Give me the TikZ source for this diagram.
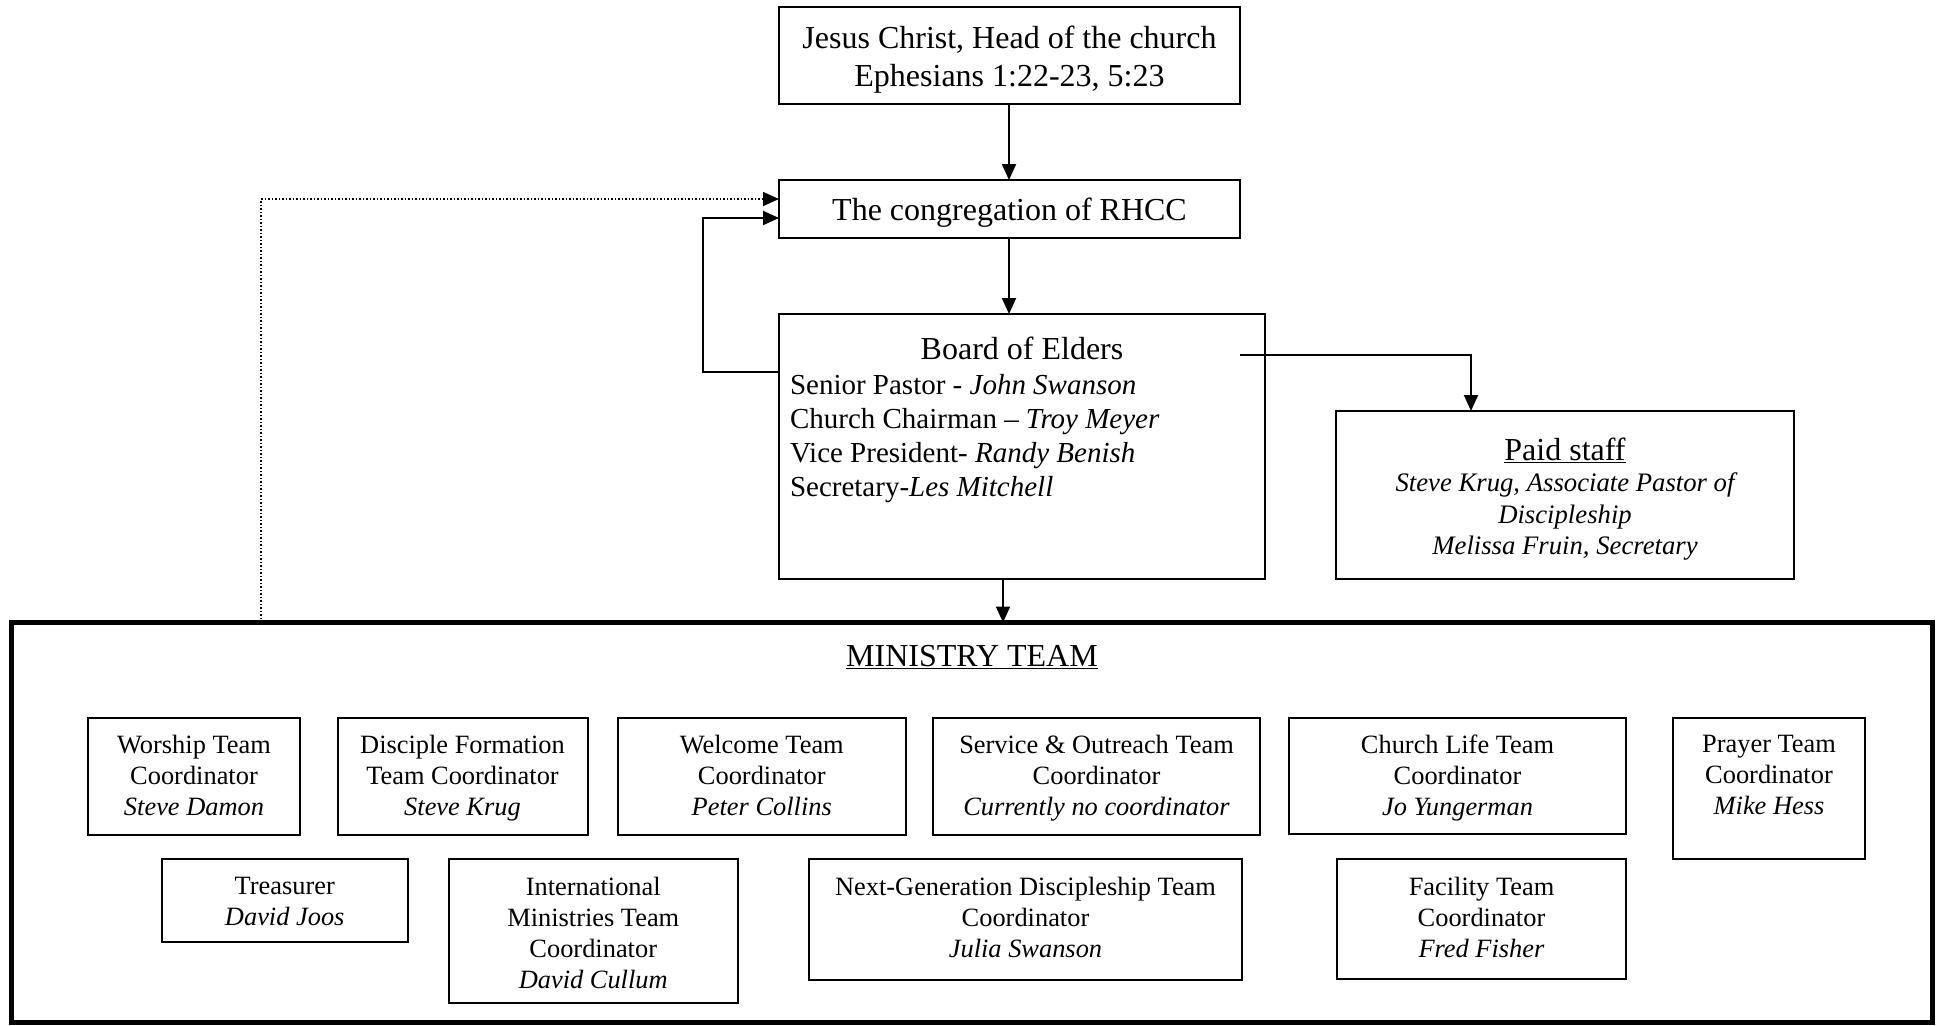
\documentclass[tikz,border=0pt]{standalone}
\usepackage{fontspec}
\setmainfont{Liberation Serif}
\usetikzlibrary{arrows.meta,calc}
\begin{document}
\begin{tikzpicture}[x=1pt,y=-1pt,
  every node/.style={outer sep=0pt},
  box/.style={draw, line width=2pt, inner sep=0pt, anchor=north west},
  bigtext/.style={font=\fontsize{32pt}{38.5pt}\selectfont, align=center, inner sep=0pt},
  listtext/.style={font=\fontsize{29pt}{34pt}\selectfont, align=left, inner sep=0pt, anchor=north west},
  teamtext/.style={font=\fontsize{26.4pt}{31pt}\selectfont, align=center, inner sep=0pt, anchor=north},
  stafftext/.style={font=\fontsize{26.7pt}{31.5pt}\selectfont\itshape, align=center, inner sep=0pt, anchor=north},
  arr/.style={line width=2pt, -{Triangle[length=16pt,width=14pt]}},
  dotline/.style={line width=1.5pt, dash pattern=on 1.5pt off 2pt, -{Triangle[length=16pt,width=14pt]}}
]
\useasboundingbox (0,0) rectangle (1942,1025);

% top of the hierarchy
\node[box, minimum width=461pt, minimum height=97pt] (jesus) at (779,7) {};
\node[bigtext] (jesustext) at ($(jesus.center)+(0,4)$)
  {Jesus Christ, Head of the church\\Ephesians 1:22-23, 5:23};
\node[box, minimum width=461pt, minimum height=58pt] (congr) at (779,180) {};
\node[bigtext] (congrtext) at ($(congr.center)+(0,4)$) {The congregation of RHCC};

% board of elders
\node[box, minimum width=486pt, minimum height=265pt] (board) at (779,314) {};
\node[bigtext, anchor=base] (boardtitle) at (1022,359) {Board of Elders};
\node[listtext] (boardlist) at (790,374)
  {Senior Pastor - \textit{John Swanson}\\
   Church Chairman -- \textit{Troy Meyer}\\
   Vice President- \textit{Randy Benish}\\
   Secretary-\textit{Les Mitchell}};

% paid staff
\node[box, minimum width=458pt, minimum height=168pt] (paid) at (1336,411) {};
\node[bigtext, anchor=base] (paidtitle) at (1565,460) {\underline{Paid staff}};
\node[stafftext] (paidlist) at (1565,473)
  {Steve Krug, Associate Pastor of\\Discipleship\\Melissa Fruin, Secretary};

% ministry team frame
\node[box, line width=5pt, minimum width=1920.5pt, minimum height=399.5pt] (ministry) at (11.5,622.5) {};
\node[bigtext, anchor=base] (mintitle) at (972,666) {\underline{MINISTRY TEAM}};

% first row of teams
\node[box, minimum width=212pt, minimum height=117pt] (worship) at (88,718) {};
\node[teamtext] (worshipt) at ($(worship.north)+(0,17)$) {Worship Team\\Coordinator\\\textit{Steve Damon}};
\node[box, minimum width=250pt, minimum height=117pt] (disciple) at (337.5,718) {};
\node[teamtext] (disciplet) at ($(disciple.north)+(0,17)$) {Disciple Formation\\Team Coordinator\\\textit{Steve Krug}};
\node[box, minimum width=288.5pt, minimum height=117pt] (welcome) at (617.5,718) {};
\node[teamtext] (welcomet) at ($(welcome.north)+(0,17)$) {Welcome Team\\Coordinator\\\textit{Peter Collins}};
\node[box, minimum width=327pt, minimum height=117pt] (service) at (933,718) {};
\node[teamtext] (servicet) at ($(service.north)+(0,17)$) {Service \& Outreach Team\\Coordinator\\\textit{Currently no coordinator}};
\node[box, minimum width=337pt, minimum height=116pt] (church) at (1289,718) {};
\node[teamtext] (churcht) at ($(church.north)+(0,17)$) {Church Life Team\\Coordinator\\\textit{Jo Yungerman}};
\node[box, minimum width=192pt, minimum height=141pt] (prayer) at (1673,718) {};
\node[teamtext] (prayert) at ($(prayer.north)+(0,17)$) {Prayer Team\\Coordinator\\\textit{Mike Hess}};

% second row of teams
\node[box, minimum width=245.5pt, minimum height=83pt] (treas) at (162,859) {};
\node[teamtext] (treast) at ($(treas.north)+(0,18)$) {Treasurer\\\textit{David Joos}};
\node[box, minimum width=288.5pt, minimum height=144pt] (intl) at (449,859) {};
\node[teamtext] (intlt) at ($(intl.north)+(0,18)$) {International\\Ministries Team\\Coordinator\\\textit{David Cullum}};
\node[box, minimum width=433pt, minimum height=121pt] (nextgen) at (809,859) {};
\node[teamtext] (nextgent) at ($(nextgen.north)+(0,18)$) {Next-Generation Discipleship Team\\Coordinator\\\textit{Julia Swanson}};
\node[box, minimum width=289pt, minimum height=120pt] (facility) at (1337,859) {};
\node[teamtext] (facilityt) at ($(facility.north)+(0,18)$) {Facility Team\\Coordinator\\\textit{Fred Fisher}};

% connectors
\coordinate (midx) at (1009,0);
\coordinate (downx) at (1003,0);
\coordinate (loopx) at (703,372);
\coordinate (staffstart) at (1240,355);
\coordinate (staffx) at (1471,0);
\coordinate (dotx) at (261,0);

\draw[arr] (jesus.south -| midx) -- (congr.north -| midx);
\draw[arr] (congr.south -| midx) -- (board.north -| midx);
\draw[arr] (board.south -| downx) -- (ministry.north -| downx);
\draw[arr] (board.west |- loopx) -- (loopx) |- ($(congr.west)+(0,9)$);
\draw[arr] (staffstart) -| (paid.north -| staffx);
\draw[dotline] (ministry.north -| dotx) |- ($(congr.west)+(0,-10)$);
\end{tikzpicture}
\end{document}
